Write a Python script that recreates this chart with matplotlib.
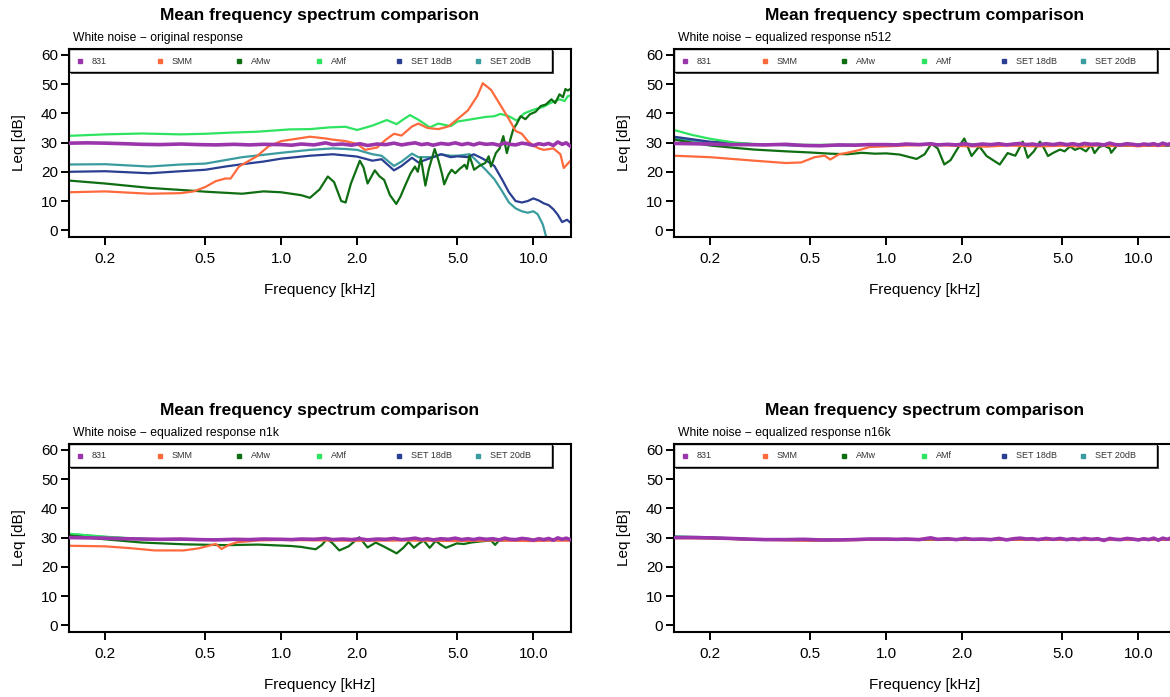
import matplotlib.pyplot as plt
from matplotlib.patches import Rectangle
from matplotlib.transforms import ScaledTranslation

plt.rcParams['font.family'] = ['Liberation Sans', 'DejaVu Sans']

# series names / colours (legend order)
names = ['831', 'SMM', 'AMw', 'AMf', 'SET 18dB', 'SET 20dB']
colors = ['#9b35ab', '#ff6a3d', '#0f6e12', '#2ee35f', '#2a3f91', '#3a9c9f']

subtitles = ['White noise \u2212 original response',
             'White noise \u2212 equalized response n512',
             'White noise \u2212 equalized response n1k',
             'White noise \u2212 equalized response n16k']

xticks = [0.2, 0.5, 1.0, 2.0, 5.0, 10.0]
xticklabels = ['0.2', '0.5', '1.0', '2.0', '5.0', '10.0']
yticks = [0, 10, 20, 30, 40, 50, 60]

# frequency grid of the 831 curves (kHz)
f_831 = [0.144, 0.17, 0.2, 0.24, 0.28, 0.33, 0.4, 0.47, 0.55, 0.65, 0.75, 0.85, 1.0, 1.1, 1.2,
         1.35, 1.5, 1.6, 1.75, 1.9, 2.05, 2.2, 2.4, 2.6, 2.8, 3.0, 3.2, 3.4, 3.6, 3.8,
         4.0, 4.3, 4.6, 4.9, 5.2, 5.5, 5.8, 6.1, 6.5, 6.9, 7.3, 7.7, 8.1, 8.5, 9.0,
         9.5, 10.0, 10.5, 11.0, 11.5, 12.0, 12.5, 13.0, 13.5, 14.1]

# ---- original response ----
orig_831 = [29.8, 29.9, 29.8, 29.6, 29.4, 29.3, 29.5, 29.3, 29.2, 29.4, 29.2, 29.4, 29.3, 29.1, 29.5,
            29.2, 29.9, 29.3, 29.5, 29.1, 29.6, 29.0, 29.5, 29.3, 29.8, 29.2, 29.6, 29.9, 29.3, 29.6,
            29.1, 29.7, 29.4, 29.9, 29.3, 29.7, 29.2, 29.8, 29.4, 29.6, 29.1, 29.9, 29.4, 29.2, 29.8,
            29.5, 29.0, 29.6, 29.3, 29.7, 29.0, 30.2, 29.4, 29.9, 28.6]

f_orig_smm = [0.144, 0.2, 0.3, 0.4, 0.45, 0.5, 0.55, 0.6, 0.63, 0.68, 0.8, 0.89, 1.0, 1.3, 1.5,
              1.6, 1.8, 2.0, 2.15, 2.4, 2.6, 2.8, 3.0, 3.3, 3.5, 3.8, 4.2, 4.6, 5.0, 5.5,
              6.0, 6.3, 6.8, 7.5, 8.0, 8.5, 9.0, 9.5, 10.0, 10.5, 11.0, 12.0, 12.8, 13.2, 14.1]
orig_smm = [13.0, 13.3, 12.5, 12.7, 13.3, 14.8, 16.8, 17.7, 17.7, 21.8, 25.3, 28.7, 30.5, 32.0, 31.4,
            31.0, 30.5, 29.5, 27.5, 28.3, 31.0, 33.0, 32.4, 35.5, 36.5, 35.0, 34.6, 35.5, 38.0, 41.0,
            46.0, 50.3, 48.0, 42.0, 38.0, 34.0, 33.0, 30.5, 29.0, 28.0, 27.5, 28.0, 26.0, 21.3, 24.0]

f_orig_amw = [0.144, 0.2, 0.3, 0.45, 0.5, 0.7, 0.85, 1.0, 1.2, 1.3, 1.42, 1.53, 1.62, 1.73, 1.8,
              1.89, 2.05, 2.12, 2.2, 2.35, 2.45, 2.56, 2.7, 2.86, 2.97, 3.09, 3.26, 3.39, 3.48, 3.58,
              3.73, 3.85, 4.06, 4.2, 4.35, 4.43, 4.6, 4.74, 4.9, 5.1, 5.34, 5.45, 5.58, 5.82, 6.1,
              6.44, 6.65, 6.79, 7.1, 7.35, 7.6, 7.85, 8.1, 8.32, 8.6, 8.9, 9.3, 9.7, 10.2, 10.7,
              11.2, 11.8, 12.2, 12.7, 13.1, 13.4, 13.7, 14.1]
orig_amw = [17.0, 16.0, 14.5, 13.5, 13.2, 12.5, 13.3, 13.0, 12.0, 11.1, 14.0, 18.4, 16.5, 10.0, 9.5,
            16.0, 23.8, 21.5, 16.0, 20.5, 18.5, 17.2, 12.0, 9.0, 11.5, 15.0, 19.5, 21.8, 20.0, 24.7,
            15.3, 21.0, 27.8, 24.0, 19.0, 15.7, 19.0, 20.7, 19.5, 21.0, 22.4, 21.0, 25.5, 20.7, 22.0,
            23.0, 25.3, 21.8, 26.4, 28.0, 32.2, 26.4, 31.0, 34.5, 36.5, 39.0, 38.0, 39.7, 40.5, 42.5,
            43.0, 44.8, 43.5, 46.5, 45.5, 48.3, 47.8, 48.5]

f_orig_amf = [0.144, 0.2, 0.28, 0.4, 0.5, 0.63, 0.8, 1.08, 1.3, 1.56, 1.8, 2.0, 2.3, 2.62, 2.87,
              3.0, 3.24, 3.5, 3.88, 4.2, 4.47, 4.7, 5.0, 5.45, 6.0, 6.5, 7.0, 7.4, 8.0, 8.6,
              9.2, 10.0, 11.0, 11.6, 12.7, 13.3, 13.7, 14.1]
orig_amf = [32.3, 32.8, 33.1, 32.8, 33.0, 33.4, 33.7, 34.5, 34.6, 35.2, 35.4, 34.3, 35.8, 37.7, 36.3,
            37.5, 39.4, 37.8, 35.2, 36.5, 36.0, 35.6, 37.2, 37.7, 38.3, 38.8, 39.0, 39.8, 39.0, 37.5,
            40.0, 41.2, 42.3, 43.4, 44.8, 44.2, 45.9, 46.0]

f_orig_set18 = [0.144, 0.2, 0.3, 0.4, 0.5, 0.6, 0.7, 0.85, 1.0, 1.3, 1.6, 1.8, 2.0, 2.3, 2.5,
                2.8, 3.0, 3.3, 3.5, 4.0, 4.3, 4.7, 5.0, 5.5, 5.8, 6.2, 6.6, 7.0, 7.5, 8.0,
                8.5, 9.0, 9.5, 10.0, 10.5, 11.0, 11.5, 12.0, 12.5, 13.0, 13.6, 14.1]
orig_set18 = [20.0, 20.2, 19.5, 20.2, 20.7, 21.8, 22.6, 23.5, 24.5, 25.5, 26.0, 25.6, 25.2, 23.8, 24.3,
              20.5, 22.0, 24.8, 23.2, 25.0, 26.0, 25.0, 25.3, 25.0, 26.0, 24.8, 23.5, 22.0, 17.5, 13.0,
              10.0, 9.5, 10.0, 10.9, 10.2, 9.2, 8.6, 7.2, 5.3, 2.8, 3.6, 2.4]

f_orig_set20 = [0.144, 0.2, 0.3, 0.4, 0.5, 0.6, 0.7, 0.85, 1.0, 1.3, 1.6, 1.8, 2.0, 2.3, 2.5,
                2.8, 3.0, 3.3, 3.5, 4.0, 4.3, 4.7, 5.0, 5.6, 6.0, 6.5, 7.0, 7.5, 8.0, 8.5,
                9.0, 9.5, 10.0, 10.4, 10.9, 11.3]
orig_set20 = [22.5, 22.6, 21.8, 22.5, 22.8, 24.0, 25.0, 25.8, 26.5, 27.5, 28.0, 27.8, 27.5, 26.0, 25.5,
              22.0, 23.5, 26.2, 25.0, 25.0, 26.0, 25.5, 25.5, 26.0, 23.5, 20.5, 17.5, 13.5, 9.5, 7.5,
              6.5, 6.0, 6.5, 5.5, 2.0, -3.0]

# ---- equalized n512 ----
n512_831 = [29.7, 29.6, 29.5, 29.3, 29.3, 29.2, 29.4, 29.0, 28.9, 29.2, 29.1, 29.3, 29.3, 29.2, 29.5,
            29.3, 29.6, 29.2, 29.4, 29.2, 29.6, 29.1, 29.5, 29.3, 29.6, 29.2, 29.5, 29.7, 29.3, 29.5,
            29.2, 29.6, 29.3, 29.7, 29.3, 29.6, 29.2, 29.7, 29.4, 29.5, 29.2, 29.8, 29.3, 29.2, 29.6,
            29.4, 29.1, 29.5, 29.3, 29.6, 29.1, 29.8, 29.3, 29.7, 29.4]

f_n512_smm = [0.144, 0.2, 0.3, 0.4, 0.46, 0.52, 0.57, 0.6, 0.65, 0.7, 0.78, 0.86, 1.0, 1.2, 1.5,
              2.0, 2.5, 3.0, 4.0, 5.0, 6.0, 7.0, 8.0, 9.0, 10.0, 11.0, 12.0, 13.0, 14.1]
n512_smm = [25.5, 25.0, 23.8, 23.0, 23.2, 25.0, 25.5, 24.2, 26.0, 26.5, 27.4, 28.5, 28.7, 29.0, 29.2,
            28.8, 28.6, 29.0, 28.7, 28.9, 28.6, 29.1, 28.8, 29.0, 28.7, 29.0, 28.8, 29.1, 29.0]

f_n512_amw = [0.144, 0.2, 0.25, 0.3, 0.4, 0.5, 0.6, 0.7, 0.8, 0.9, 1.0, 1.13, 1.32, 1.42, 1.51,
              1.6, 1.7, 1.8, 1.92, 2.04, 2.18, 2.34, 2.5, 2.65, 2.82, 3.03, 3.25, 3.48, 3.64, 3.85,
              4.07, 4.2, 4.38, 4.6, 4.89, 5.1, 5.36, 5.6, 5.87, 6.2, 6.5, 6.7, 7.0, 7.3, 7.7,
              7.8, 8.3, 9.0, 10.0, 11.0, 12.0, 13.0, 14.1]
n512_amw = [31.0, 29.0, 28.2, 27.6, 27.0, 26.6, 26.2, 26.0, 26.5, 26.2, 26.3, 25.9, 24.4, 26.0, 29.6,
            28.0, 22.5, 24.0, 28.0, 31.4, 25.4, 28.7, 25.4, 24.0, 22.5, 26.4, 25.5, 30.3, 24.8, 27.0,
            30.3, 28.5, 25.4, 26.5, 27.6, 27.0, 28.7, 27.5, 28.2, 27.0, 29.2, 26.4, 28.5, 29.0, 28.0,
            26.5, 29.4, 29.0, 29.3, 29.1, 29.2, 29.0, 29.3]

f_n512_amf = [0.144, 0.17, 0.2, 0.25, 0.3, 0.5, 1.0, 2.0, 5.0, 10.0, 14.1]
n512_amf = [34.3, 32.6, 31.3, 30.0, 29.5, 29.2, 29.3, 29.4, 29.3, 29.2, 29.3]

f_n512_set = [0.144, 0.2, 0.3, 0.5, 1.0, 2.0, 5.0, 10.0, 14.1]
n512_set18 = [32.0, 30.3, 29.4, 28.9, 29.3, 29.3, 29.2, 29.0, 29.1]
n512_set20 = [31.5, 30.0, 29.4, 29.0, 29.3, 29.3, 29.2, 29.0, 29.0]

# ---- equalized n1k ----
n1k_831 = [30.0, 29.9, 29.8, 29.6, 29.5, 29.4, 29.5, 29.3, 29.2, 29.4, 29.3, 29.5, 29.4, 29.3, 29.5,
           29.4, 29.7, 29.3, 29.5, 29.3, 29.6, 29.2, 29.5, 29.4, 29.7, 29.3, 29.5, 29.8, 29.3, 29.6,
           29.2, 29.6, 29.4, 29.8, 29.3, 29.6, 29.3, 29.7, 29.4, 29.6, 29.2, 29.8, 29.4, 29.3, 29.7,
           29.5, 29.1, 29.6, 29.3, 29.7, 29.1, 29.9, 29.4, 29.8, 29.2]

f_n1k_smm = [0.144, 0.2, 0.25, 0.315, 0.41, 0.47, 0.55, 0.58, 0.62, 0.67, 0.81, 1.0, 1.5, 2.0, 3.0,
             5.0, 7.0, 10.0, 12.0, 14.1]
n1k_smm = [27.2, 27.0, 26.4, 25.6, 25.6, 26.3, 27.8, 26.1, 27.5, 28.4, 29.0, 29.2, 29.0, 28.9, 29.0,
           28.8, 29.0, 28.8, 29.0, 28.9]

f_n1k_amw = [0.144, 0.2, 0.28, 0.41, 0.6, 0.81, 1.1, 1.2, 1.3, 1.37, 1.45, 1.52, 1.6, 1.7, 1.85,
             2.04, 2.2, 2.37, 2.57, 2.87, 3.05, 3.2, 3.36, 3.5, 3.67, 3.88, 4.1, 4.3, 4.5, 4.97,
             5.3, 5.66, 6.2, 6.8, 7.05, 7.3, 8.0, 9.0, 10.0, 12.0, 14.1]
n1k_amw = [30.7, 29.4, 28.3, 27.7, 27.4, 27.6, 27.1, 26.8, 26.3, 26.0, 27.5, 29.6, 28.0, 25.6, 27.0,
           30.1, 26.6, 28.3, 26.8, 24.6, 26.5, 28.5, 26.5, 27.8, 29.0, 26.5, 28.9, 27.5, 26.5, 28.0,
           27.8, 28.3, 28.7, 29.0, 27.5, 29.0, 29.2, 29.3, 29.2, 29.4, 29.2]

f_n1k_rest = [0.144, 0.2, 0.25, 0.3, 0.5, 1.0, 2.0, 5.0, 10.0, 14.1]
n1k_amf = [31.3, 30.3, 29.8, 29.5, 29.3, 29.3, 29.4, 29.3, 29.2, 29.3]
n1k_set18 = [31.0, 30.0, 29.6, 29.4, 29.2, 29.3, 29.3, 29.2, 29.1, 29.2]
n1k_set20 = [31.2, 30.2, 29.7, 29.4, 29.2, 29.3, 29.3, 29.2, 29.1, 29.2]

# ---- equalized n16k ----
n16k_831 = [30.0, 30.0, 29.9, 29.7, 29.5, 29.3, 29.3, 29.4, 29.2, 29.2, 29.3, 29.5, 29.5, 29.4, 29.5,
            29.3, 29.9, 29.4, 29.6, 29.3, 29.7, 29.4, 29.5, 29.3, 29.7, 29.2, 29.6, 29.8, 29.5, 29.6,
            29.3, 29.7, 29.4, 29.7, 29.3, 29.6, 29.3, 29.7, 29.4, 29.6, 29.0, 29.7, 29.4, 29.3, 29.7,
            29.5, 29.2, 29.6, 29.3, 29.8, 29.1, 29.8, 29.4, 29.9, 29.3]

f_n16k_rest = [0.144, 0.2, 0.3, 0.5, 1.0, 2.0, 5.0, 10.0, 14.1]
n16k_smm = [29.8, 29.7, 29.3, 28.9, 29.3, 29.3, 29.2, 29.2, 29.3]
n16k_amw = [30.0, 29.8, 29.3, 29.1, 29.3, 29.2, 29.3, 29.2, 29.3]
n16k_amf = [30.3, 30.0, 29.4, 29.2, 29.3, 29.3, 29.3, 29.2, 29.3]
n16k_set18 = [30.2, 29.9, 29.3, 29.1, 29.3, 29.3, 29.2, 29.2, 29.3]
n16k_set20 = [30.4, 30.1, 29.4, 29.2, 29.3, 29.3, 29.2, 29.2, 29.3]

panels = [
    [(f_831, orig_831), (f_orig_smm, orig_smm), (f_orig_amw, orig_amw),
     (f_orig_amf, orig_amf), (f_orig_set18, orig_set18), (f_orig_set20, orig_set20)],
    [(f_831, n512_831), (f_n512_smm, n512_smm), (f_n512_amw, n512_amw),
     (f_n512_amf, n512_amf), (f_n512_set, n512_set18), (f_n512_set, n512_set20)],
    [(f_831, n1k_831), (f_n1k_smm, n1k_smm), (f_n1k_amw, n1k_amw),
     (f_n1k_rest, n1k_amf), (f_n1k_rest, n1k_set18), (f_n1k_rest, n1k_set20)],
    [(f_831, n16k_831), (f_n16k_rest, n16k_smm), (f_n16k_rest, n16k_amw),
     (f_n16k_rest, n16k_amf), (f_n16k_rest, n16k_set18), (f_n16k_rest, n16k_set20)],
]

fig = plt.figure(figsize=(11.7, 6.97), dpi=100)

ax_w, ax_h = 502 / 1170, 188 / 697
lefts = [69 / 1170, 674 / 1170]
bottoms = [(697 - 237) / 697, (697 - 632) / 697]
draw_order = [5, 4, 3, 2, 1, 0]

for k, series in enumerate(panels):
    ax = fig.add_axes([lefts[k % 2], bottoms[k // 2], ax_w, ax_h])
    for i in draw_order:
        f, v = series[i]
        ax.plot(f, v, color=colors[i], lw=2.6 if i == 0 else 1.6, zorder=2 + (6 - i) * 0.1)

    ax.set_xscale('log')
    ax.set_xlim(0.144, 14.1)
    ax.set_ylim(-2.3, 62.0)
    ax.set_xticks(xticks)
    ax.set_xticklabels(xticklabels)
    ax.minorticks_off()
    ax.set_yticks(yticks)
    ax.tick_params(axis='both', direction='out', length=6, width=1.4, labelsize=11, colors='black')
    ax.tick_params(axis='x', pad=5)
    ax.tick_params(axis='y', pad=2)
    for sp in ax.spines.values():
        sp.set_linewidth(1.5)

    ax.text(0.5, 1.18, 'Mean frequency spectrum comparison', transform=ax.transAxes,
            ha='center', va='center', fontsize=12.5, fontweight='bold')
    ax.text(0.008, 1.0585, subtitles[k], transform=ax.transAxes,
            ha='left', va='center', fontsize=8.7)
    ax.text(-0.1, 0.5, 'Leq [dB]', transform=ax.transAxes, rotation=90,
            ha='center', va='center', fontsize=11)
    ax.text(0.5, -0.282, 'Frequency [kHz]', transform=ax.transAxes,
            ha='center', va='center', fontsize=11)

    # legend box with shadow along the top of the plot
    y0 = 1 - 23 / 188
    shadow_tr = ax.transAxes + ScaledTranslation(2 / 100, -2 / 100, fig.dpi_scale_trans)
    ax.add_patch(Rectangle((0, y0), 0.962, 1 - y0, transform=shadow_tr,
                           facecolor='0.3', edgecolor='none', zorder=4.8, clip_on=False))
    ax.add_patch(Rectangle((0, y0), 0.962, 1 - y0, transform=ax.transAxes,
                           facecolor='white', edgecolor='black', lw=1.0, zorder=5, clip_on=False))
    ym = 1 - 12 / 188
    for i, (name, c) in enumerate(zip(names, colors)):
        xm = 0.022 + i * 0.1586
        ax.plot([xm], [ym], marker='s', markersize=3.5, color=c, transform=ax.transAxes,
                zorder=6, clip_on=False)
        ax.text(xm + 0.024, ym, name, transform=ax.transAxes, ha='left', va='center',
                fontsize=6.5, color='#333333', zorder=6)

plt.savefig('out.png', dpi=100)
